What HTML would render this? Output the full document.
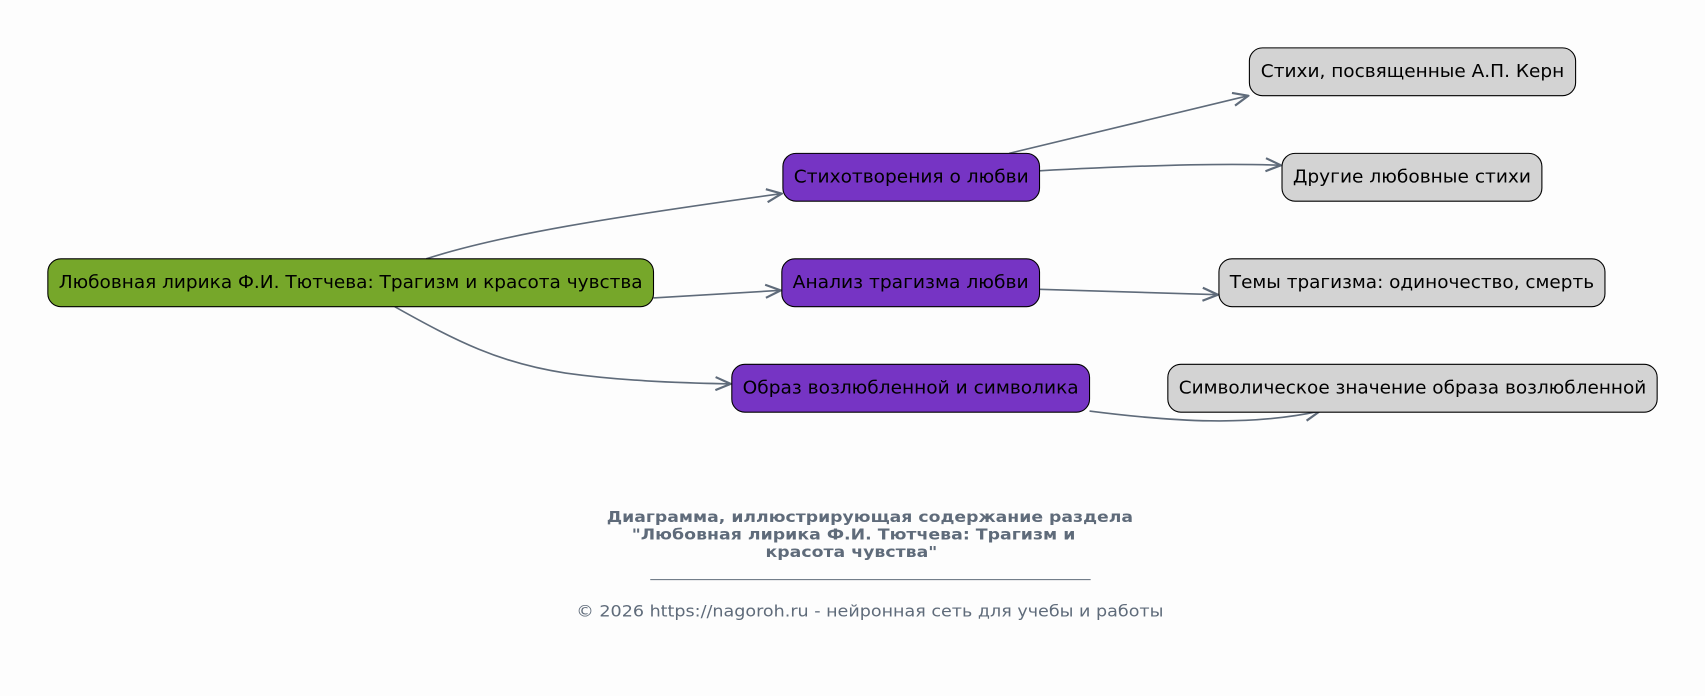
<!DOCTYPE html>
<html><head><meta charset="utf-8"><style>
html,body{margin:0;padding:0;background:#fdfdfd;}
svg{display:block;}
text{font-family:"DejaVu Sans","Liberation Sans",sans-serif;}
</style></head><body>
<svg width="1705" height="696" viewBox="0 0 1568 640" xmlns="http://www.w3.org/2000/svg">
<defs>
<marker id="a" viewBox="0 0 16 14" refX="15" refY="7" markerWidth="16" markerHeight="14" markerUnits="userSpaceOnUse" orient="auto">
<path d="M1,1 L15,7 L1,13" fill="none" stroke="#5f6b7a" stroke-width="2"/>
</marker>
</defs>
<rect width="1568" height="640" fill="#fdfdfd"/>
<g fill="none" stroke="#5f6b7a" stroke-width="1.5" marker-end="url(#a)">
<path d="M392,238 C460,216 560,200 719,178"/>
<path d="M601,274 L718,267"/>
<path d="M363,282 C420,314 460,334 520,343 C570,350 620,352 672,353"/>
<path d="M928,141 L1148,88"/>
<path d="M956,157 C1050,152 1130,150 1178,152"/>
<path d="M956,266 L1120,271"/>
<path d="M1002,378 C1080,388 1150,392 1214,378"/>
</g>
<g stroke="#000" stroke-width="1" font-size="16" text-anchor="middle">
<rect x="44" y="238" width="557" height="44" rx="12" fill="#76a72a"/>
<rect x="720" y="141" width="236" height="44" rx="12" fill="#7634c4"/>
<rect x="719" y="238" width="237" height="44" rx="12" fill="#7634c4"/>
<rect x="673" y="335" width="329" height="44" rx="12" fill="#7634c4"/>
<rect x="1149" y="44" width="300" height="44" rx="12" fill="#d3d3d3"/>
<rect x="1179" y="141" width="239" height="44" rx="12" fill="#d3d3d3"/>
<rect x="1121" y="238" width="355" height="44" rx="12" fill="#d3d3d3"/>
<rect x="1074" y="335" width="450" height="44" rx="12" fill="#d3d3d3"/>
</g>
<g font-size="16" fill="#000" text-anchor="middle">
<text x="322.5" y="265" textLength="537" lengthAdjust="spacingAndGlyphs">Любовная лирика Ф.И. Тютчева: Трагизм и красота чувства</text>
<text x="838" y="168" textLength="216" lengthAdjust="spacingAndGlyphs">Стихотворения о любви</text>
<text x="837.5" y="265" textLength="217" lengthAdjust="spacingAndGlyphs">Анализ трагизма любви</text>
<text x="837.5" y="362" textLength="309" lengthAdjust="spacingAndGlyphs">Образ возлюбленной и символика</text>
<text x="1299" y="71" textLength="279" lengthAdjust="spacingAndGlyphs">Стихи, посвященные А.П. Керн</text>
<text x="1298.5" y="168" textLength="219" lengthAdjust="spacingAndGlyphs">Другие любовные стихи</text>
<text x="1298.5" y="265" textLength="335" lengthAdjust="spacingAndGlyphs">Темы трагизма: одиночество, смерть</text>
<text x="1299" y="362" textLength="430" lengthAdjust="spacingAndGlyphs">Символическое значение образа возлюбленной</text>
</g>
<g fill="#5f6b7a" text-anchor="middle">
<text x="800" y="480" font-size="14" font-weight="bold" textLength="484" lengthAdjust="spacingAndGlyphs">Диаграмма, иллюстрирующая содержание раздела</text>
<text x="785" y="496" font-size="14" font-weight="bold" textLength="408" lengthAdjust="spacingAndGlyphs">"Любовная лирика Ф.И. Тютчева: Трагизм и</text>
<text x="783" y="512" font-size="14" font-weight="bold" textLength="158" lengthAdjust="spacingAndGlyphs">красота чувства"</text>
<text x="800" y="567" font-size="14.5" textLength="540" lengthAdjust="spacingAndGlyphs">© 2026 https://nagoroh.ru - нейронная сеть для учебы и работы</text>
</g>
<line x1="598" y1="533" x2="1003" y2="533" stroke="#5f6b7a" stroke-width="1"/>
</svg>
</body></html>
